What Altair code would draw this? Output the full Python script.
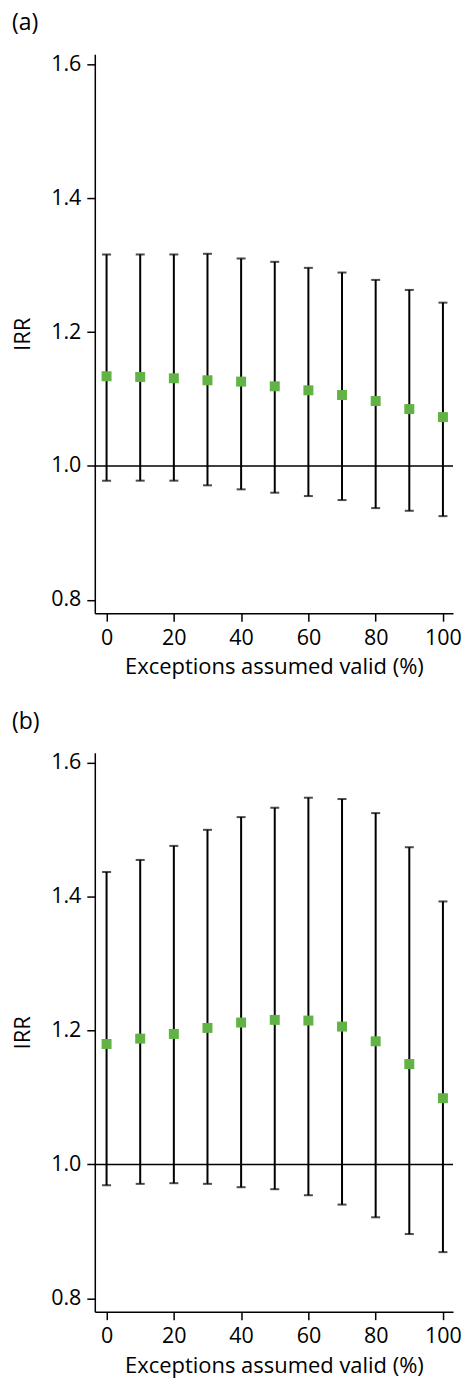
import altair as alt
import pandas as pd

# Exceptions assumed valid (%)
pct = [0, 10, 20, 30, 40, 50, 60, 70, 80, 90, 100]

# Panel (a)
a_irr = [1.134, 1.133, 1.131, 1.128, 1.126, 1.119, 1.113, 1.106, 1.097, 1.085, 1.073]
a_lo = [0.978, 0.978, 0.978, 0.971, 0.965, 0.960, 0.955, 0.949, 0.937, 0.933, 0.925]
a_hi = [1.316, 1.316, 1.316, 1.317, 1.310, 1.305, 1.296, 1.289, 1.278, 1.263, 1.244]

# Panel (b)
b_irr = [1.180, 1.188, 1.195, 1.204, 1.212, 1.216, 1.215, 1.206, 1.184, 1.150, 1.099]
b_lo = [0.969, 0.971, 0.972, 0.971, 0.966, 0.963, 0.954, 0.940, 0.921, 0.896, 0.869]
b_hi = [1.437, 1.455, 1.476, 1.500, 1.519, 1.533, 1.548, 1.546, 1.525, 1.474, 1.393]

x_ticks = [0, 20, 40, 60, 80, 100]
y_ticks = [0.8, 1.0, 1.2, 1.4, 1.6]
ref_value = [1.0]

FONT = "Open Sans"
GREEN = "#62B346"


def panel(label, irr, lo, hi):
    df = pd.DataFrame({"pct": pct, "irr": irr, "lo": lo, "hi": hi})
    xscale = alt.Scale(domain=[-3.5, 103], nice=False, zero=False)
    xaxis = alt.Axis(values=x_ticks, format="d", title="Exceptions assumed valid (%)")
    yscale = alt.Scale(domain=[0.78, 1.615], nice=False, zero=False)
    yaxis = alt.Axis(values=y_ticks, format=".1f", title="IRR")

    def X():
        return alt.X("pct:Q", scale=xscale, axis=xaxis)

    def Y(field):
        return alt.Y(field, scale=yscale, axis=yaxis)

    base = alt.Chart(df)
    ref = (
        alt.Chart(pd.DataFrame({"ref": ref_value}))
        .mark_rule(color="black", strokeWidth=1.5)
        .encode(y=Y("ref:Q"))
    )
    bars = base.mark_rule(color="black", strokeWidth=2).encode(
        x=X(), y=Y("lo:Q"), y2="hi:Q"
    )
    cap_hi = base.mark_tick(orient="horizontal", color="black", size=9, thickness=2).encode(
        x=X(), y=Y("hi:Q")
    )
    cap_lo = base.mark_tick(orient="horizontal", color="black", size=9, thickness=2).encode(
        x=X(), y=Y("lo:Q")
    )
    pts = base.mark_point(
        shape="square", filled=True, size=100, color=GREEN, opacity=1
    ).encode(x=X(), y=Y("irr:Q"))
    return alt.layer(ref, bars, cap_hi, cap_lo, pts).properties(
        width=359,
        height=560,
        title=alt.TitleParams(
            text=label,
            anchor="start",
            frame="group",
            dx=-83,
            offset=18,
            font=FONT,
            fontSize=23,
            fontWeight="normal",
            color="black",
        ),
    )


chart = (
    alt.vconcat(panel("(a)", a_irr, a_lo, a_hi), panel("(b)", b_irr, b_lo, b_hi), spacing=32)
    .properties(padding={"top": 10, "left": 11, "right": 5, "bottom": 6})
    .configure_view(stroke="transparent")
    .configure_axis(
        grid=False,
        domainColor="black",
        domainWidth=1.5,
        tickColor="black",
        tickWidth=1.5,
        tickSize=8,
        labelFont=FONT,
        labelFontSize=21.5,
        labelColor="black",
        labelPadding=6,
        titleFont=FONT,
        titleFontSize=22,
        titleFontWeight="normal",
        titleColor="black",
    )
    .configure_axisY(titlePadding=16)
    .configure_axisX(titlePadding=8)
)

chart.save("out.html", embed_options={"renderer": "svg", "actions": False})
